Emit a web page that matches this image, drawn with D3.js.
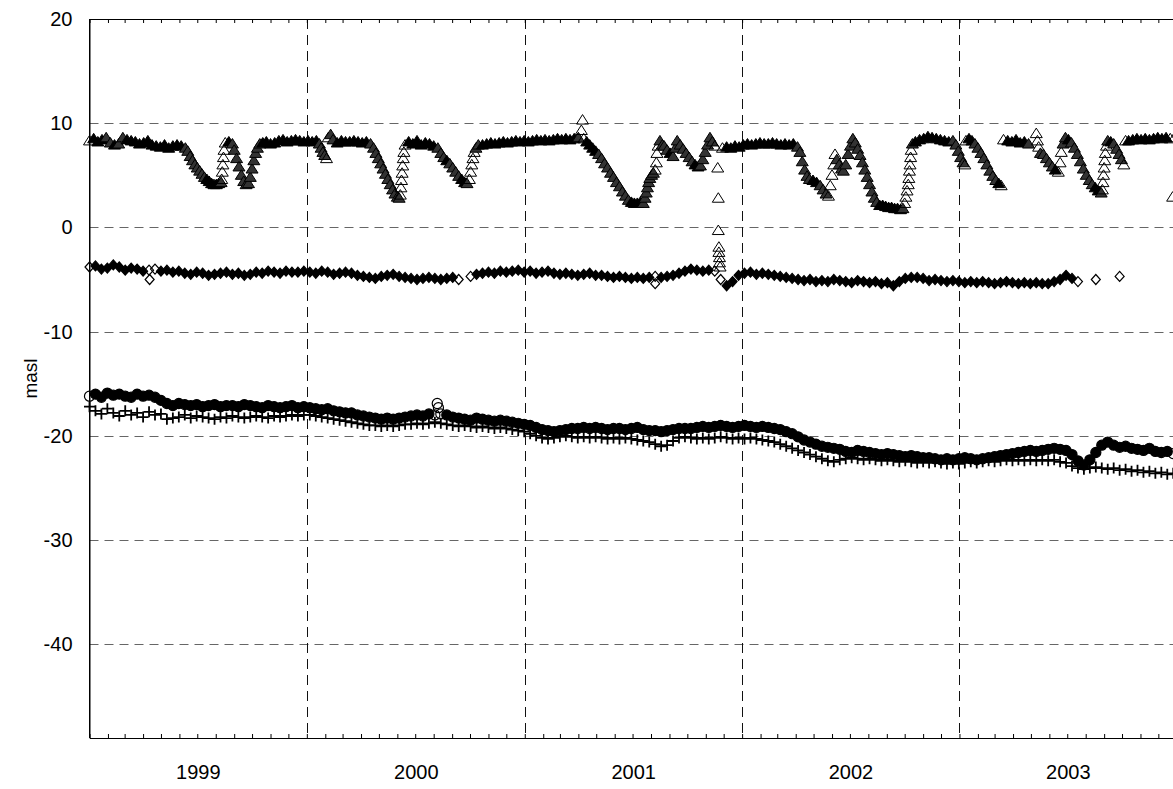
<!DOCTYPE html>
<html><head><meta charset="utf-8">
<script src="https://cdn.jsdelivr.net/npm/d3@7"></script>
<style>
html,body{margin:0;padding:0;background:#fff;}
svg text{font-family:"Liberation Sans",Arial,sans-serif;}
</style></head>
<body><svg id="c" width="1173" height="789"></svg>
<script>
// ---------------- data ----------------
// days since 1999-01-01
const upperDays = [0,7,14,21,28,35,42,49,56,63,70,77,84,91,98,105,112,119,126,133,140,147,154,161,
165,169,173,177,181,185,189,193,197,201,205,209,213,217,221,
222,223,224,225,226,228,234,240,
243,247,251,255,259,263,267,270,273,276,279,282,286,291,
297,304,311,318,325,332,339,346,353,360,
367,374,381,386,389,392,395,398,401,405,409,416,423,430,437,444,451,458,465,472,
477,481,485,489,493,497,501,505,509,513,517,520,
522,523,524,525,526,527,528,530,536,543,550,557,564,571,578,
585,590,595,600,605,610,615,620,625,630,634,
638,640,642,644,646,649,653,
660,667,674,681,688,695,702,709,716,723,
730,737,744,751,758,765,772,779,786,793,800,807,814,821,826,828,830,
835,840,845,850,855,860,865,870,875,880,885,890,895,900,905,910,915,920,925,930,
933,935,937,939,941,944,947,950,952,953,955,958,962,
965,970,975,980,984,987,992,997,1002,1007,1012,1017,1022,1026,1030,1034,1038,1042,1046,
1055,1056,1056,1057,1057,1058,1058,1059,
1050,1063,1070,1077,1084,1091,1098,1105,1112,1119,1126,1133,1140,1147,1154,1161,1168,1175,1182,1189,
1193,1197,1201,1205,1209,1215,1221,1227,1232,1237,1241,
1244,1247,1250,1252,1255,1259,1263,1266,1270,1274,1278,1282,1286,1290,1294,1298,1302,1306,1310,1314,1318,1322,1327,
1332,1337,1342,1347,1352,1357,1362,1366,
1369,1371,1373,1375,1376,1377,1378,1379,1380,1382,
1387,1394,1401,1408,1415,1422,1429,1436,1443,1450,
1455,1459,1463,1467,1470,1472,1477,1482,1487,1492,1497,1502,1507,1512,1517,1522,1527,1531,
1535,1542,1549,1556,1563,1570,1577,
1590,1592,1594,1597,1602,1607,1612,1617,1622,1627,1630,1632,1635,1639,
1644,1649,1654,1659,1664,1669,1674,1679,1684,1689,1694,1699,
1701,1702,1703,1704,1705,1706,1708,1710,
1715,1720,1725,1729,1733,1737,1740,
1745,1752,1759,1766,1773,1780,1787,1794,1801,1808,1815,1819,1822];
const upperVals = [8.3,8.5,8.2,8.4,8.6,8.1,7.9,8.0,8.6,8.4,8.3,8.2,8.0,8.1,8.3,7.9,7.8,7.7,7.9,7.6,7.8,7.9,7.8,7.6,
7.3,6.8,6.4,6.0,5.7,5.4,5.1,4.8,4.6,4.4,4.2,4.1,4.1,4.2,4.3,
4.6,5.3,6.0,6.7,7.4,8.1,8.2,8.0,
7.4,6.6,5.8,5.0,4.4,4.1,4.2,4.8,5.6,6.4,7.1,7.6,8.0,8.1,
8.2,8.0,8.1,8.3,8.4,8.2,8.3,8.4,8.3,8.2,
8.3,8.2,8.3,8.0,7.6,7.2,6.9,6.6,8.6,8.9,8.4,8.1,8.3,8.2,8.2,8.3,8.2,8.1,8.2,8.0,
7.6,7.1,6.6,6.1,5.6,5.1,4.6,4.1,3.6,3.2,2.9,2.8,
3.1,3.8,4.5,5.2,5.9,6.6,7.2,7.9,8.2,8.0,8.3,7.9,8.1,8.0,7.8,
7.6,7.1,6.7,6.4,6.1,5.7,5.3,4.9,4.6,4.3,4.2,
4.6,5.3,6.0,6.6,7.2,7.6,7.9,
7.9,8.0,8.1,8.0,8.1,8.2,8.1,8.2,8.3,8.2,
8.3,8.2,8.3,8.4,8.3,8.4,8.3,8.4,8.5,8.4,8.5,8.4,8.5,8.6,9.3,10.3,8.5,
8.2,7.9,7.6,7.3,7.0,6.6,6.1,5.7,5.2,4.8,4.3,3.9,3.4,3.0,2.6,2.4,2.3,2.3,2.4,2.3,
2.8,3.3,3.8,4.3,4.7,5.0,5.2,5.5,6.2,7.1,7.8,8.3,7.9,
7.8,7.4,7.1,6.8,7.6,8.3,7.9,7.5,7.1,6.7,6.3,6.0,5.8,5.9,6.5,7.2,7.9,8.6,8.2,
5.7,2.8,-0.3,-1.9,-2.4,-2.9,-3.4,-3.8,
7.8,7.6,7.7,7.6,7.8,7.7,7.9,8.0,7.9,8.0,8.1,8.0,8.0,8.1,8.0,7.9,8.0,7.9,8.0,7.7,
7.2,6.3,5.5,4.9,4.6,4.5,4.3,4.0,3.6,3.2,3.0,
4.0,5.0,6.0,7.0,6.5,6.0,5.6,5.4,6.0,7.0,7.8,8.5,8.1,7.5,6.9,6.2,5.5,4.8,4.1,3.4,2.8,2.4,2.1,
2.1,2.0,1.9,1.9,1.8,1.8,1.7,1.8,
2.3,2.9,3.5,4.1,4.7,5.4,6.0,6.7,7.4,8.0,
8.2,8.4,8.5,8.7,8.6,8.5,8.4,8.3,8.2,8.3,
7.9,7.3,6.7,6.2,6.0,8.3,8.5,8.3,8.0,7.6,7.1,6.6,6.0,5.4,4.9,4.5,4.2,4.0,
8.4,8.3,8.2,8.4,8.1,8.2,8.0,
9.0,8.3,7.7,7.1,7.0,6.6,6.2,5.8,5.5,5.3,6.2,7.2,8.0,8.6,
8.4,8.1,7.6,7.0,6.3,5.6,5.0,4.5,4.1,3.8,3.5,3.3,
3.6,4.3,5.0,5.7,6.4,7.1,7.8,8.3,
8.2,8.0,7.5,7.0,6.5,6.0,8.3,
8.3,8.4,8.5,8.4,8.5,8.4,8.5,8.6,8.5,8.6,8.5,2.9,8.6];

// 10-day sampled series, index i -> day 10*i
const diamondVals = [-3.8,-3.7,-4.0,-3.9,-3.6,-3.8,-4.1,-3.9,-4.0,-4.2,-4.1,-4.0,-4.2,-4.1,-4.3,-4.2,
-4.4,-4.5,-4.3,-4.4,-4.6,-4.5,-4.4,-4.3,-4.5,-4.4,-4.6,-4.5,-4.3,-4.4,-4.2,-4.3,-4.4,-4.2,-4.3,-4.3,
-4.2,-4.3,-4.4,-4.2,-4.3,-4.5,-4.4,-4.3,-4.4,-4.6,-4.7,-4.8,-4.9,-4.7,-4.6,-4.5,
-4.7,-4.8,-4.9,-5.0,-4.9,-4.8,-4.9,-5.0,-4.9,-4.8,-5.0,null,
-4.7,-4.5,-4.4,-4.3,-4.4,-4.2,-4.3,-4.2,-4.1,-4.3,-4.2,-4.4,-4.3,-4.2,-4.4,-4.5,-4.4,-4.5,-4.6,-4.5,-4.4,-4.6,
-4.6,-4.7,-4.8,-4.7,-4.8,-4.9,-4.8,-4.9,-4.8,-4.7,-4.8,-4.7,-4.6,-4.4,-4.2,-4.0,-4.1,-4.2,-4.1,-4.2,
-5.0,-5.6,-5.2,-4.6,
-4.4,-4.3,-4.5,-4.4,-4.5,-4.6,-4.7,-4.8,-4.9,-5.0,-5.1,-5.0,-5.2,-5.1,-5.2,-5.0,-5.1,-5.2,-5.3,-5.1,-5.2,-5.3,-5.2,-5.4,-5.3,-5.6,-5.2,
-4.9,-4.8,-4.8,-4.9,-5.1,-5.0,-5.1,-5.2,-5.1,-5.2,-5.3,-5.2,-5.3,-5.2,-5.3,-5.4,-5.3,-5.2,-5.3,-5.4,-5.3,-5.4,-5.3,-5.4,
-5.4,-5.2,-5.0,-4.6,-4.9,-5.2,null,null,-5.0,null,null,null,-4.7,null,null,null,null,null,null,null,null,null];
const diamondExtraDays = [101, 950];
const diamondExtraVals = [-5.0, -5.4];

const circleVals = [-16.2,-16.0,-16.3,-15.9,-16.1,-16.0,-16.2,-16.3,-16.0,-16.2,-16.1,-16.3,-16.6,
-16.9,-17.1,-16.9,-17.0,-17.1,-17.0,-17.2,-17.1,-17.0,-17.2,-17.1,-17.1,-17.2,-17.0,-17.1,-17.2,-17.3,-17.1,-17.2,-17.3,-17.2,-17.1,-17.3,-17.2,
-17.3,-17.4,-17.5,-17.4,-17.6,-17.7,-17.8,-17.8,-18.0,-18.1,-18.2,-18.3,-18.4,-18.3,-18.4,-18.3,-18.2,
-18.1,-18.0,-18.1,-17.9,-18.0,-17.9,-18.0,-18.2,-18.3,-18.4,-18.5,-18.3,-18.4,-18.5,-18.6,-18.5,-18.6,-18.7,-18.8,-18.9,
-19.0,-19.2,-19.4,-19.5,-19.6,-19.5,-19.4,-19.3,
-19.3,-19.2,-19.3,-19.2,-19.3,-19.4,-19.3,-19.3,-19.4,-19.3,-19.2,-19.4,-19.5,-19.5,-19.6,-19.5,-19.4,-19.3,-19.3,-19.3,-19.2,-19.1,-19.2,-19.1,-19.0,-19.1,-19.2,-19.1,-19.0,-19.1,-19.2,-19.1,-19.2,-19.3,-19.4,-19.6,
-19.8,-20.1,-20.4,-20.6,-20.8,-21.0,-21.1,-21.2,-21.3,-21.5,-21.6,-21.4,-21.5,-21.6,-21.7,-21.8,-21.7,-21.8,-21.9,-22.0,-21.9,-22.0,-22.1,
-22.1,-22.2,-22.3,-22.2,-22.3,-22.2,-22.1,-22.2,-22.3,-22.2,-22.1,-22.0,-21.9,-21.8,-21.7,-21.6,-21.5,-21.4,-21.5,-21.4,
-21.3,-21.2,-21.3,-21.4,-21.8,-22.4,-22.8,-22.3,-21.6,-20.9,
-20.6,-20.9,-21.1,-21.0,-21.2,-21.3,-21.4,-21.2,-21.5,-21.6,-21.5,-21.7];
const circleExtraDays = [584, 586];
const circleExtraVals = [-16.9, -17.3];

const plusVals = [-17.2,-17.6,-17.9,-17.4,-17.8,-18.1,-17.6,-18.0,-17.8,-18.2,-17.7,-18.0,-17.9,
-18.4,-18.3,-18.2,-18.0,-18.3,-18.1,-18.2,-18.3,-18.4,-18.2,-18.3,-18.1,-18.2,-18.3,-18.2,-18.1,-18.2,-18.3,-18.1,-18.2,-18.1,-18.0,-18.1,-18.0,
-18.0,-18.1,-18.2,-18.3,-18.4,-18.5,-18.6,-18.7,-18.8,-18.9,-19.0,-19.0,-19.1,-19.0,-19.1,-19.0,-18.9,
-18.9,-18.8,-18.9,-18.8,-18.7,-18.8,-18.9,-19.0,-19.1,-19.0,-19.1,-19.2,-19.1,-19.2,-19.3,-19.2,-19.3,-19.4,-19.5,-19.6,
-19.8,-20.0,-20.2,-20.3,-20.2,-20.1,-20.0,-20.1,
-20.2,-20.1,-20.2,-20.1,-20.2,-20.3,-20.2,-20.3,-20.2,-20.3,-20.4,-20.5,-20.6,-20.8,-21.0,-20.9,-20.5,-20.2,-20.1,-20.2,-20.3,-20.2,-20.3,-20.2,-20.1,-20.2,-20.3,-20.2,-20.3,-20.2,-20.3,-20.4,-20.5,-20.6,-20.8,-21.0,
-21.2,-21.4,-21.6,-21.8,-22.0,-22.2,-22.4,-22.5,-22.3,-22.2,-22.1,-22.2,-22.3,-22.2,-22.3,-22.4,-22.3,-22.4,-22.5,-22.4,-22.5,-22.6,-22.5,
-22.6,-22.5,-22.6,-22.7,-22.6,-22.7,-22.6,-22.5,-22.6,-22.5,-22.4,-22.5,-22.4,-22.3,-22.4,-22.3,-22.4,-22.3,-22.4,-22.3,
-22.4,-22.3,-22.5,-22.6,-22.9,-23.1,-23.2,-23.1,-23.0,-23.1,
-23.2,-23.1,-23.3,-23.2,-23.4,-23.3,-23.5,-23.4,-23.6,-23.5,-23.7,-23.6];

const yTickValues = [20,10,0,-10,-20,-30,-40];
const yearLabels = ["1999","2000","2001","2002","2003"];
const yLabel = "masl";

// ---------------- chart ----------------
const svg = d3.select("#c");
const L = 89.5, T = 19, B = 738, R = 1176.8;
const FONT = "Liberation Sans, Arial, sans-serif";
const day = d => new Date(Date.UTC(1999, 0, 1) + d * 86400000);
const x = d3.scaleUtc().domain([new Date(Date.UTC(1999,0,1)), new Date(Date.UTC(2004,0,1))]).range([L, R]);
const y = d3.scaleLinear().domain([-49, 20]).range([B, T]);

// grid
const g = svg.append("g");
g.selectAll("line.hg").data(yTickValues.filter(v => v < 20)).join("line")
  .attr("x1", L).attr("x2", 1173).attr("y1", d => Math.round(y(d)) + 0.5).attr("y2", d => Math.round(y(d)) + 0.5)
  .attr("stroke", "#666").attr("stroke-dasharray", "9,6");
const yearBounds = yearLabels.slice(1).map(s => new Date(Date.UTC(+s, 0, 1)));
g.selectAll("line.vg").data(yearBounds).join("line")
  .attr("x1", d => Math.round(x(d)) + 0.5).attr("x2", d => Math.round(x(d)) + 0.5).attr("y1", T).attr("y2", B)
  .attr("stroke", "#111").attr("stroke-dasharray", "10,6");

// axes
const months = d3.utcMonth.range(new Date(Date.UTC(1999,0,1)), new Date(Date.UTC(2004,0,2)));
const bottomAx = svg.append("g").attr("transform", `translate(0,${B})`)
  .call(d3.axisBottom(x).tickValues(months).tickSize(-4).tickSizeOuter(0).tickFormat(""));
const topAx = svg.append("g").attr("transform", `translate(0,${T})`)
  .call(d3.axisTop(x).tickValues(months).tickSize(-4).tickSizeOuter(0).tickFormat(""));
[bottomAx, topAx].forEach(a => { a.select(".domain").attr("stroke", "#000"); a.selectAll(".tick line").attr("stroke", "#000"); });

const midYears = yearLabels.map(s => new Date(Date.UTC(+s, 6, 2)));
const lab = svg.append("g").attr("transform", `translate(0,${B})`)
  .call(d3.axisBottom(x).tickValues(midYears).tickSize(0).tickPadding(27).tickFormat(d3.utcFormat("%Y")));
lab.select(".domain").remove();
lab.selectAll("text").attr("font-size", 20).attr("fill", "#000").attr("font-family", FONT);

const leftAx = svg.append("g").attr("transform", `translate(${L},0)`)
  .call(d3.axisLeft(y).tickValues(yTickValues).tickSize(0).tickPadding(17).tickSizeOuter(0).tickFormat(d => String(d)));
leftAx.select(".domain").attr("stroke", "#000");
leftAx.selectAll("text").attr("font-size", 20).attr("fill", "#000").attr("font-family", FONT);

svg.append("text").attr("transform", `translate(37,${(T + B) / 2}) rotate(-90)`)
  .attr("text-anchor", "middle").attr("font-size", 19).attr("font-family", FONT).text(yLabel);

// marks
const plot = svg.append("g");
const tri = "M0,-5.5L6,4L-6,4Z";
const diamond = "M0,-5L4.5,0L0,5L-4.5,0Z";
const plus = "M-5.5,0H5.5M0,-5.5V5.5";
const circ = d3.symbol().type(d3.symbolCircle).size(80)();

// fill style from local rate of change (dense runs look solid, jumps open)
function withFill(pts, solidRate, grayRate) {
  const s = pts.filter(p => p.v != null).sort((a, b) => a.d - b.d);
  s.forEach((p, i) => {
    const a = s[i - 1], b = s[i + 1];
    if (!a || !b || b.d - a.d > 25) { p.f = "none"; return; }
    const r = Math.max(Math.abs(p.v - a.v) / Math.max(p.d - a.d, 1), Math.abs(b.v - p.v) / Math.max(b.d - p.d, 1));
    p.f = r < solidRate ? "#000" : (r < grayRate ? "#333" : "none");
  });
  return s;
}
function drawSeries(pts, path, sw, filled) {
  plot.append("g").selectAll("path").data(pts).join("path")
    .attr("d", path)
    .attr("transform", p => `translate(${x(day(p.d))},${y(p.v)})`)
    .attr("fill", p => filled ? p.f : "none").attr("stroke", "#000").attr("stroke-width", sw);
}
const tenDay = arr => arr.map((v, i) => ({ d: i * 10, v }));
const pairs = (ds, vs) => ds.map((d, i) => ({ d, v: vs[i] }));

drawSeries(withFill(tenDay(plusVals), 1, 1), plus, 1.8, false);
drawSeries(withFill(tenDay(circleVals).concat(pairs(circleExtraDays, circleExtraVals)), 0.1, 0.1), circ, 1.2, true);
drawSeries(withFill(tenDay(diamondVals).concat(pairs(diamondExtraDays, diamondExtraVals)), 0.07, 0.07), diamond, 1.2, true);
drawSeries(withFill(pairs(upperDays, upperVals), 0.07, 0.3), tri, 1, true);

// left axis line on top
svg.append("line").attr("x1", L).attr("x2", L).attr("y1", T).attr("y2", B).attr("stroke", "#000");
</script></body></html>
